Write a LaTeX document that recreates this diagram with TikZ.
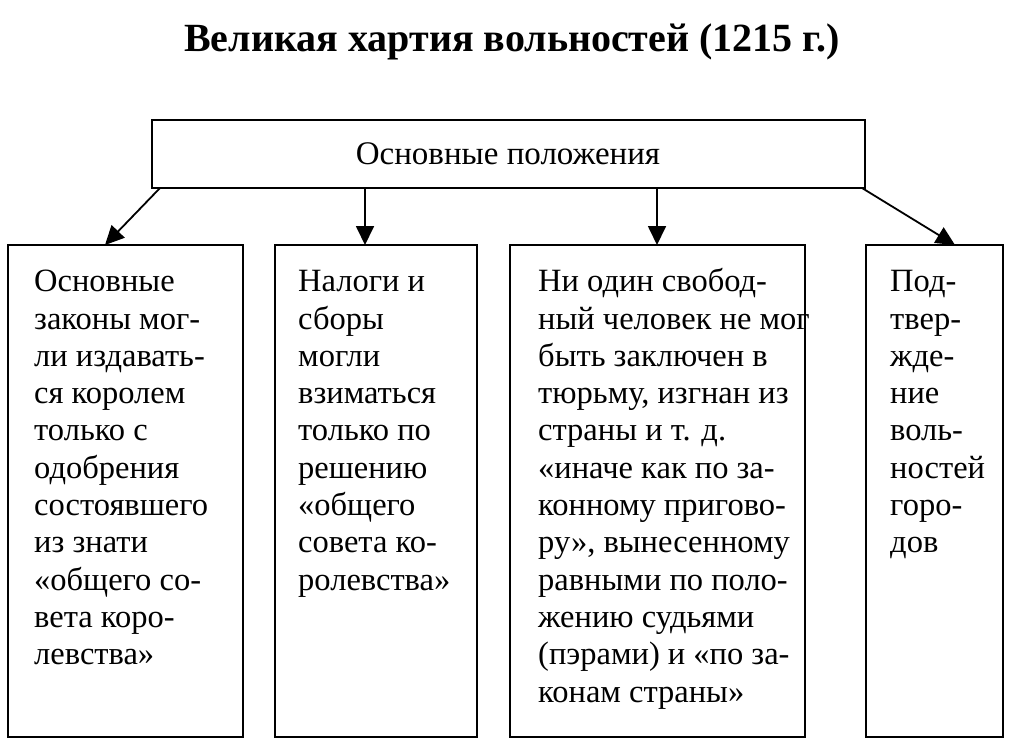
\documentclass[tikz,border=0pt]{standalone}
\usepackage{fontspec}
\setmainfont{Liberation Serif}
\usetikzlibrary{arrows.meta}
\begin{document}
\begin{tikzpicture}[x=1pt,y=-1pt,
  box/.style={draw,line width=1.8pt},
  txt/.style={anchor=north west,align=left,inner sep=0pt,font=\fontsize{32.5}{37.3}\selectfont},
  arr/.style={line width=1.8pt,-{Triangle[length=19pt,width=18pt]}}]
\useasboundingbox (0,0) rectangle (1024,750);
\node (title) at (512,42) {\fontsize{40}{46}\selectfont\bfseries Великая хартия вольностей (1215 г.)};
\draw[box] (152,120) rectangle (865,188);
\node (top) at (508,154) {\fontsize{33}{38}\selectfont Основные положения};
\coordinate (t1) at (160,188); \coordinate (t2) at (365,188);
\coordinate (t3) at (657,188); \coordinate (t4) at (862,188);
\draw[box] (8,245) rectangle (243,737); \coordinate (b1) at (105,245);
\draw[box] (275,245) rectangle (477,737); \coordinate (b2) at (365,245);
\draw[box] (510,245) rectangle (805,737); \coordinate (b3) at (657,245);
\draw[box] (866,245) rectangle (1003,737); \coordinate (b4) at (955,245);
\draw[arr] (t1) -- (b1); \draw[arr] (t2) -- (b2);
\draw[arr] (t3) -- (b3); \draw[arr] (t4) -- (b4);
\node[txt] (n1) at (34,264) {\vphantom{Й}Основные\\законы мог-\\ли издавать-\\ся королем\\только с\\одобрения\\состоявшего\\из знати\\«общего со-\\вета коро-\\левства»};
\node[txt] (n2) at (298,264) {\vphantom{Й}Налоги и\\сборы\\могли\\взиматься\\только по\\решению\\«общего\\совета ко-\\ролевства»};
\node[txt] (n3) at (538,264) {\vphantom{Й}Ни один свобод-\\ный человек не мог\\быть заключен в\\тюрьму, изгнан из\\страны и т. д.\\«иначе как по за-\\конному пригово-\\ру», вынесенному\\равными по поло-\\жению судьями\\(пэрами) и «по за-\\конам страны»};
\node[txt] (n4) at (890,264) {\vphantom{Й}Под-\\твер-\\жде-\\ние\\воль-\\ностей\\горо-\\дов};
\end{tikzpicture}
\end{document}
